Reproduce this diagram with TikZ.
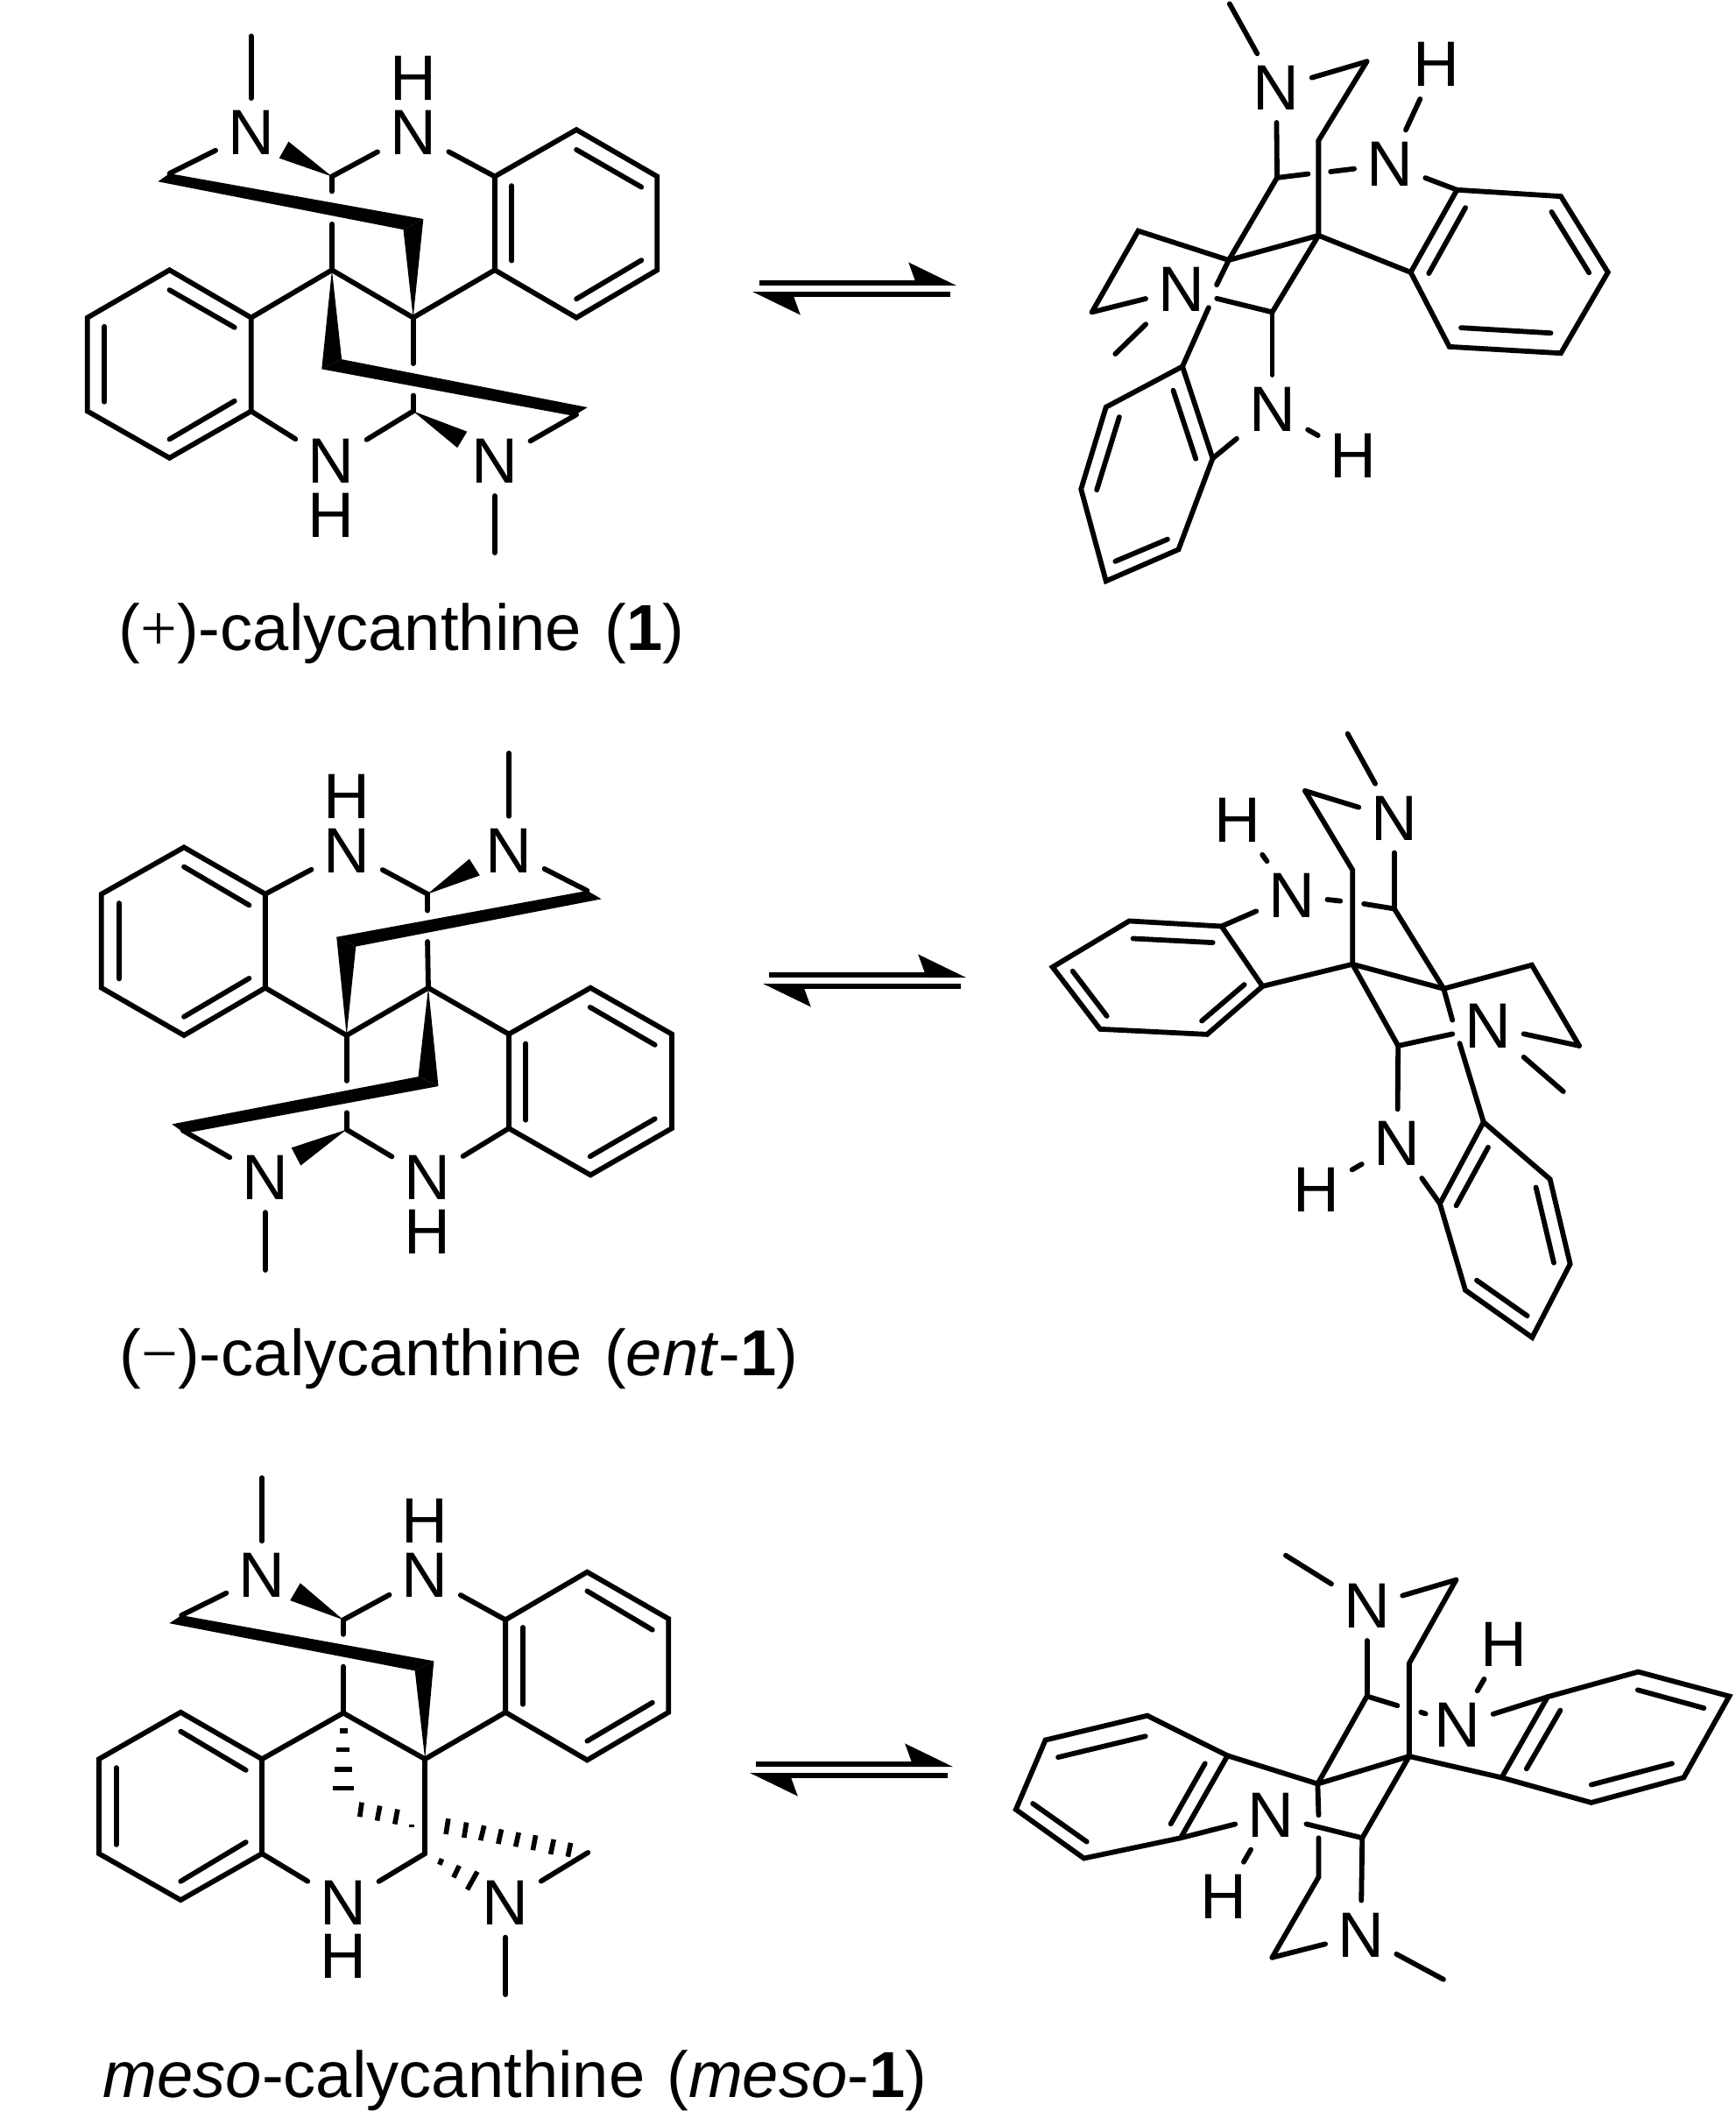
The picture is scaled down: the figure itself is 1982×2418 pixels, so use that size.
\documentclass[tikz,border=0pt]{standalone}
\usepackage{fontspec}
\setmainfont{Liberation Sans}
\newfontfamily\thinsym{Liberation Serif}
\usetikzlibrary{arrows.meta}

\begin{document}
\begin{tikzpicture}[x=0.01cm,y=-0.01cm,
    bond/.style={line width=1.65pt,line cap=round,line join=miter},
    hash/.style={line width=1.6pt},
    wedge/.style={fill=black,draw=none},
    atom/.style={font=\fontsize{20.8}{24}\selectfont,inner sep=0.135cm},
    name label/.style={font=\fontsize{21.1}{26}\selectfont,inner sep=0pt,anchor=base west},
    eqm/.style={line width=1.7pt,-{Stealth[harpoon,length=0.48cm,width=0.46cm,inset=0.08cm]}}]
    \useasboundingbox (0,0) rectangle (1982,2418);

    % (+)-calycanthine
    \begin{scope}[shift={(60,0)},x=0.004847cm,y=-0.004847cm]
    \foreach \nm/\px/\py in {a1/1040/415,a2/1232/305,a3/1422/415,a4/1422/635,a5/1232/747,a6/1040/635,
        a7/467/747,a8/275/635,a9/82/747,a10/82/967,a11/275/1077,a12/467/967,
        a13/657/415,a14/657/635,a15/848/747,a16/848/967,a17/275/408,a18/1232/975,
        a19/248/427,a20/825/540,a21/872/515,a22/633/868,a23/680/845,a24/1258/958,a47/1225/978,
        a25/555/333,a26/533/372,a27/975/1015,a28/952/1053,
        a29/657/450,a30/657/527,a31/848/855,a32/848/930,a33/467/85,a34/1040/1300,
        a35/1080/437,a36/1080/613,a37/1232/352,a38/1385/440,a39/1232/703,a40/1385/612,
        a41/122/768,a42/122/945,a43/275/682,a44/428/770,a45/275/1033,a46/428/943}
        \coordinate (\nm) at (\px,\py);
    \node[atom] (an1) at (467,312) {N};
    \node[atom] (an2) at (848,312) {N};
    \node[atom] (ah2) at (848,185) {H};
    \node[atom] (an3) at (655,1085) {N};
    \node[atom] (ah3) at (655,1212) {H};
    \node[atom] (an4) at (1040,1085) {N};
    \draw[bond] (a1) -- (a2) -- (a3) -- (a4) -- (a5) -- (a6) -- cycle;
    \draw[bond] (a7) -- (a8) -- (a9) -- (a10) -- (a11) -- (a12) -- cycle;
    \foreach \p/\q in {a14/a7,a14/a15,a15/a6,a13/a29,a30/a14,a15/a31,a32/a16,an1/a33,an1/a17,
        a13/an2,an2/a1,an3/a12,an3/a16,an4/a18,an4/a34,a35/a36,a37/a38,a39/a40,a41/a42,a43/a44,a45/a46}
        \draw[bond] (\p) -- (\q);
    \fill[wedge] (a19) -- (a20) -- (a21) -- (a17) -- cycle;
    \fill[wedge] (a15) -- (a20) -- (a21) -- cycle;
    \fill[wedge] (a14) -- (a22) -- (a23) -- cycle;
    \fill[wedge] (a22) -- (a47) -- (a24) -- (a23) -- cycle;
    \fill[wedge] (a13) -- (a25) -- (a26) -- cycle;
    \fill[wedge] (a16) -- (a27) -- (a28) -- cycle;
    \end{scope}

    % its conformer
    \begin{scope}[shift={(1180,0)},x=0.004591cm,y=-0.004337cm]
    \foreach \nm/\px/\py in {b1/1052/500,b2/1310/517,b3/1427/717,b4/1310/930,b5/1033/913,b6/937/717,
        b7/370/965,b8/180/1072,b9/118/1288,b10/180/1530,b11/360/1447,b12/445/1207,
        b13/605/468,b14/485/685,b15/708/620,b16/593/822,b17/708/370,b18/828/162,b19/260/608,b20/145/822,
        b21/487/10,b22/203/932,b23/682/458,b24/738/452,b25/455/750,b26/435/810,
        b27/1073/547,b28/982/720,b29/1287/558,b30/1380/718,b31/1062/863,b32/1285/877,
        b33/347/1028,b34/403/1208,b35/213/1098,b36/157/1290,b37/203/1478,b38/333/1420}
        \coordinate (\nm) at (\px,\py);
    \node[atom] (bn1) at (603,232) {N};
    \node[atom] (bn2) at (885,433) {N};
    \node[atom] (bh2) at (1000,170) {H};
    \node[atom] (bn3) at (367,763) {N};
    \node[atom] (bn4) at (593,1078) {N};
    \node[atom] (bh4) at (795,1200) {H};
    \draw[bond] (b1) -- (b2) -- (b3) -- (b4) -- (b5) -- (b6) -- cycle;
    \draw[bond] (b7) -- (b8) -- (b9) -- (b10) -- (b11) -- (b12) -- cycle;
    \draw[bond] (b18) -- (b17) -- (b15);
    \draw[bond] (b20) -- (b19) -- (b14);
    \foreach \p/\q in {bn1/b21,bn1/b18,bn1/b13,b13/b23,b24/bn2,bn2/bh2,bn2/b1,b15/b6,b13/b14,b14/b15,b15/b16,
        b20/bn3,b14/b25,b26/b7,bn3/b16,bn3/b22,b16/bn4,bn4/bh4,bn4/b12,
        b27/b28,b29/b30,b31/b32,b33/b34,b35/b36,b37/b38}
        \draw[bond] (\p) -- (\q);
    \end{scope}

    % (-)-calycanthine
    \begin{scope}[shift={(80,840)},x=0.004591cm,y=-0.004719cm]
    \foreach \nm/\px/\py in {c1/485/383,c2/283/270,c3/78/383,c4/78/610,c5/283/725,c6/485/610,
        c7/1090/722,c8/1293/610,c9/1495/722,c10/1495/950,c11/1293/1063,c12/1090/950,
        c13/888/383,c14/890/610,c15/687/725,c16/687/953,
        c17/1285/375,c18/1320/395,c19/710/510,c20/662/487,
        c21/865/825,c22/915/848,c23/253/940,c24/285/962,
        c25/992/298,c26/1018/338,c27/550/997,c28/573/1040,
        c29/888/423,c30/888/498,c31/687/835,c32/687/912,c33/1090/42,c34/485/1293,c36/280/955,
        c37/122/405,c38/122/588,c39/283/317,c40/445/410,c41/283/680,c42/445/587,
        c43/1132/745,c44/1132/930,c45/1292/657,c46/1453/748,c47/1292/1018,c48/1453/927}
        \coordinate (\nm) at (\px,\py);
    \node[atom] (cn1) at (688,278) {N};
    \node[atom] (ch1) at (688,147) {H};
    \node[atom] (cn2) at (1090,278) {N};
    \node[atom] (cn3) at (485,1070) {N};
    \node[atom] (cn4) at (888,1070) {N};
    \node[atom] (ch4) at (888,1200) {H};
    \draw[bond] (c1) -- (c2) -- (c3) -- (c4) -- (c5) -- (c6) -- cycle;
    \draw[bond] (c7) -- (c8) -- (c9) -- (c10) -- (c11) -- (c12) -- cycle;
    \foreach \p/\q in {cn1/c1,cn1/c13,cn2/c33,cn2/c17,c6/c15,c15/c14,c14/c7,c13/c29,c30/c14,c15/c31,c32/c16,
        c16/cn4,cn4/c12,cn3/c36,cn3/c34,c37/c38,c39/c40,c41/c42,c43/c44,c45/c46,c47/c48}
        \draw[bond] (\p) -- (\q);
    \fill[wedge] (c20) -- (c17) -- (c18) -- (c19) -- cycle;
    \fill[wedge] (c15) -- (c20) -- (c19) -- cycle;
    \fill[wedge] (c14) -- (c21) -- (c22) -- cycle;
    \fill[wedge] (c21) -- (c23) -- (c24) -- (c22) -- cycle;
    \fill[wedge] (c13) -- (c25) -- (c26) -- cycle;
    \fill[wedge] (c16) -- (c27) -- (c28) -- cycle;
    \end{scope}

    % its conformer
    \begin{scope}[shift={(1180,820)},x=0.004337cm,y=-0.004656cm]
    \foreach \nm/\px/\py in {d1/495/510,d2/252/497,d3/50/610,d4/175/762,d5/457/775,d6/603/657,
        d7/1185/990,d8/1360/1130,d9/1413/1338,d10/1313/1518,d11/1137/1402,d12/1070/1190,
        d13/950/467,d14/840/603,d15/1080/663,d16/960/803,d17/840/372,d18/715/178,d19/1312/605,d20/1437/803,
        d21/827/38,d22/1395/915,d23/870/455,d24/808/448,d25/1103/740,d26/1122/797,
        d27/472/550,d28/262/540,d29/103/620,d30/193/730,d31/443/742,d32/555/653,
        d33/1197/1052,d34/1113/1195,d35/1323/1150,d36/1370/1335,d37/1167/1378,d38/1300/1465}
        \coordinate (\nm) at (\px,\py);
    \node[atom] (dn1) at (950,245) {N};
    \node[atom] (dn2) at (680,435) {N};
    \node[atom] (dh2) at (537,250) {H};
    \node[atom] (dn3) at (1197,755) {N};
    \node[atom] (dn4) at (958,1043) {N};
    \node[atom] (dh4) at (745,1157) {H};
    \draw[bond] (d1) -- (d2) -- (d3) -- (d4) -- (d5) -- (d6) -- cycle;
    \draw[bond] (d7) -- (d8) -- (d9) -- (d10) -- (d11) -- (d12) -- cycle;
    \draw[bond] (d18) -- (d17) -- (d14);
    \draw[bond] (d15) -- (d19) -- (d20);
    \foreach \p/\q in {dn1/d21,dn1/d18,dn1/d13,d13/d23,d24/dn2,dn2/dh2,dn2/d1,d6/d14,d14/d15,d13/d15,d14/d16,
        d20/dn3,d15/d25,d26/d7,d16/dn3,dn3/d22,d16/dn4,dn4/dh4,dn4/d12,
        d27/d28,d29/d30,d31/d32,d33/d34,d35/d36,d37/d38}
        \draw[bond] (\p) -- (\q);
    \end{scope}

    % meso-calycanthine
    \begin{scope}[shift={(90,1680)},x=0.004591cm,y=-0.003954cm]
    \foreach \nm/\px/\py in {e1/1060/428,e2/1263/290,e3/1465/425,e4/1465/695,e5/1263/833,e6/1060/695,
        e7/455/830,e8/253/695,e9/50/830,e10/50/1103,e11/253/1237,e12/455/1103,
        e13/657/428,e14/657/697,e15/860/830,e16/860/1103,
        e17/255/415,e18/225/438,e19/835/575,e20/882/547,e21/550/322,e22/525/372,
        e23/657/470,e24/657/563,e25/455/18,e26/1060/1510,e27/1265/1100,
        e28/1103/450,e29/1103/672,e30/1263/345,e31/1425/457,e32/1263/778,e33/1425/667,
        e34/93/855,e35/93/1077,e36/253/750,e37/415/862,e38/253/1183,e39/415/1070}
        \coordinate (\nm) at (\px,\py);
    \node[atom] (en1) at (455,300) {N};
    \node[atom] (en2) at (860,300) {N};
    \node[atom] (eh2) at (860,143) {H};
    \node[atom] (en3) at (657,1245) {N};
    \node[atom] (eh3) at (657,1400) {H};
    \node[atom] (en4) at (1060,1245) {N};
    \draw[bond] (e1) -- (e2) -- (e3) -- (e4) -- (e5) -- (e6) -- cycle;
    \draw[bond] (e7) -- (e8) -- (e9) -- (e10) -- (e11) -- (e12) -- cycle;
    \foreach \p/\q in {en1/e25,en1/e17,e13/en2,en2/e1,e7/e14,e14/e15,e15/e6,e13/e23,e24/e14,e15/e16,
        e16/en3,en3/e12,en4/e26,en4/e27,e28/e29,e30/e31,e32/e33,e34/e35,e36/e37,e38/e39}
        \draw[bond] (\p) -- (\q);
    \fill[wedge] (e18) -- (e19) -- (e20) -- (e17) -- cycle;
    \fill[wedge] (e15) -- (e19) -- (e20) -- cycle;
    \fill[wedge] (e13) -- (e21) -- (e22) -- cycle;
    \foreach \xa/\ya/\xb/\yb in {648/748/667/748,640/803/672/803,636/859/680/859,630/914/684/914,
        703/955/698/997,748/965/741/1008,792/975/785/1018,827/1018/827/1026,
        918/1002/912/1047,963/1013/957/1057,1007/1022/998/1065,1050/1033/1042/1075,
        1093/1042/1085/1083,1135/1050/1128/1093,1180/1062/1172/1105,1222/1072/1215/1112,
        902/1118/896/1135,945/1138/931/1172,990/1155/965/1207}
        \draw[hash] (\xa,\ya) -- (\xb,\yb);
    \end{scope}

    % its conformer
    \begin{scope}[shift={(1140,1740)},x=0.005356cm,y=-0.003571cm]
    \foreach \nm/\px/\py in {f1/1170/552,f2/1363/472,f3/1557/550,f4/1460/810,f5/1263/890,f6/1072/810,
        f7/488/740,f8/317/612,f9/100/690,f10/37/912,f11/182/1068,f12/388/1003,
        f13/785/550,f14/680/830,f15/875/742,f16/775/1003,f17/875/445,f18/975/178,f19/682/1128,f20/583/1385,
        f21/612/100,f22/948/1455,f23/850/580,f24/900/601,f25/910/606,f26/682/930,f27/682/1003,
        f28/1197/595,f29/1125/782,f30/1362/530,f31/1503/588,f32/1435/765,f33/1263/833,
        f34/440/765,f35/367/958,f36/313/678,f37/127/745,f38/73/893,f39/188/1015}
        \coordinate (\nm) at (\px,\py);
    \node[atom] (fn1) at (785,262) {N};
    \node[atom] (fn2) at (978,643) {N};
    \node[atom] (fh2) at (1077,385) {H};
    \node[atom] (fn3) at (580,930) {N};
    \node[atom] (fh3) at (480,1190) {H};
    \node[atom] (fn4) at (772,1313) {N};
    \draw[bond] (f1) -- (f2) -- (f3) -- (f4) -- (f5) -- (f6) -- cycle;
    \draw[bond] (f7) -- (f8) -- (f9) -- (f10) -- (f11) -- (f12) -- cycle;
    \draw[bond] (f18) -- (f17) -- (f15);
    \draw[bond] (f27) -- (f19) -- (f20);
    \foreach \p/\q in {fn1/f21,fn1/f18,fn1/f13,f13/f23,f24/f25,fn2/fh2,fn2/f1,f15/f6,f14/f15,f13/f14,f15/f16,
        f7/f14,f14/f26,fn3/f16,f20/fn4,f16/fn4,fn4/f22,fn3/f12,fn3/fh3,
        f28/f29,f30/f31,f32/f33,f34/f35,f36/f37,f38/f39}
        \draw[bond] (\p) -- (\q);
    \end{scope}

    % equilibrium arrows
    \foreach \nm/\px/\py in {u1/867/323,u2/1092/323,v1/1085/336,v2/859/336,
        u3/878/1113,u4/1103/1113,v3/1097/1126,v4/871/1126,
        u5/863/2014,u6/1088/2014,v5/1082/2027,v6/856/2027}
        \coordinate (\nm) at (\px,\py);
    \foreach \p/\q in {u1/u2,v1/v2,u3/u4,v3/v4,u5/u6,v5/v6}
        \draw[eqm] (\p) -- (\q);

    \node[name label] (lbl1) at (135,742) {({\thinsym +})-calycanthine\hspace{0.08em} (\textbf{1})};
    \node[name label] (lbl2) at (136,1570) {({\thinsym −})-calycanthine\hspace{0.06em} (\textit{ent}-\textbf{1})};
    \node[name label] (lbl3) at (117,2394) {\textit{meso}-calycanthine\hspace{0.06em} (\textit{meso}-\textbf{1})};
\end{tikzpicture}
\end{document}
